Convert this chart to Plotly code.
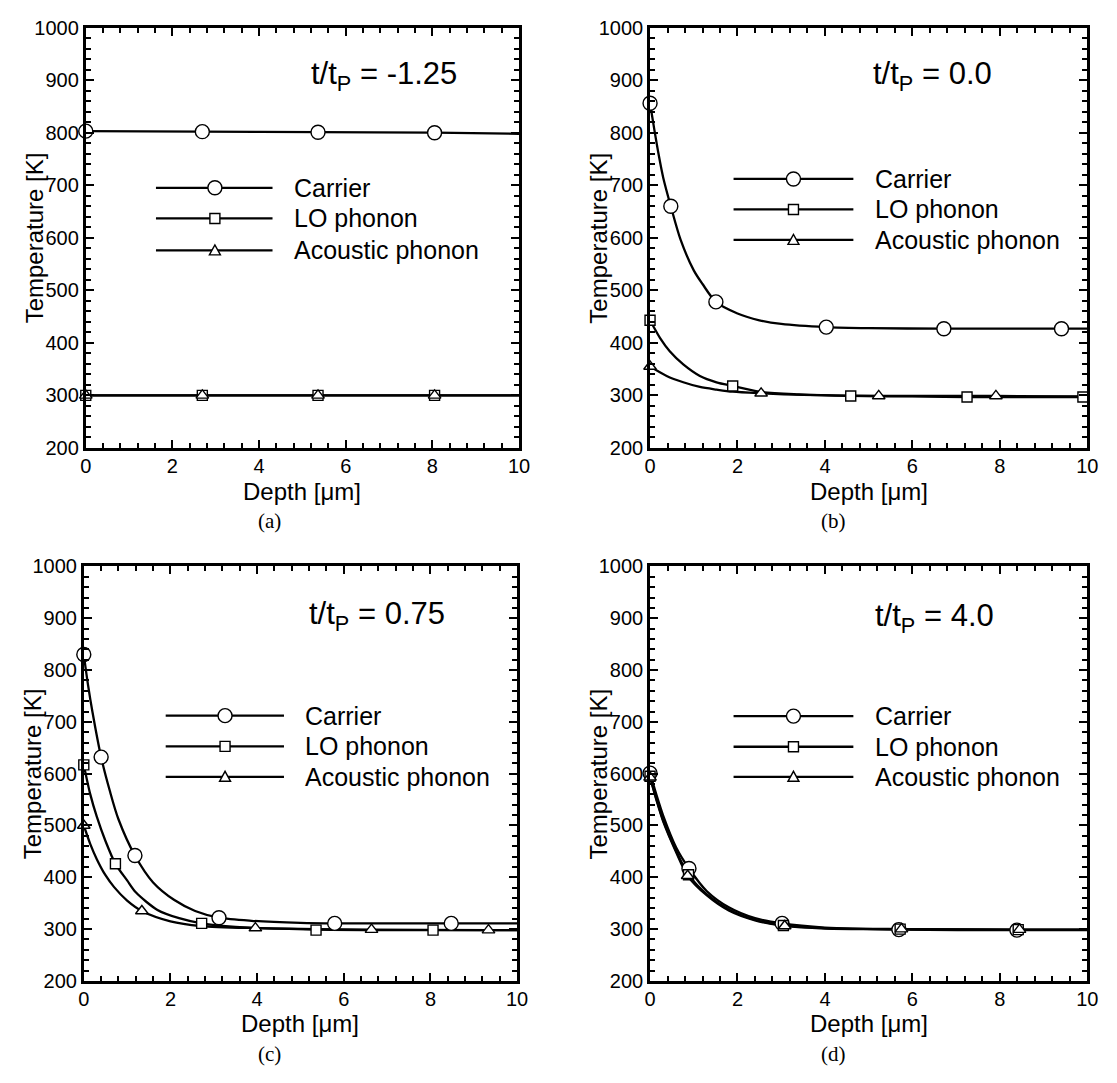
import plotly.graph_objects as go

# ---------------- data: temperature profiles vs depth ----------------
# (a) t/tP = -1.25
a_car_x = [0, 2.69, 5.36, 8.05, 10]
a_car_y = [803, 802, 801, 800, 798]
a_car_mx = [0, 2.69, 5.36, 8.05]
a_car_my = [803, 802, 801, 800]
a_lo_x = [0, 2.69, 5.36, 8.05, 10]
a_lo_y = [300, 300, 300, 300, 300]
a_lo_mx = [0, 2.69, 5.36, 8.05]
a_lo_my = [300, 300, 300, 300]
a_ac_x = [0, 2.69, 5.36, 8.05, 10]
a_ac_y = [300, 300, 300, 300, 300]
a_ac_mx = [0, 2.69, 5.36, 8.05]
a_ac_my = [300, 300, 300, 300]

# (b) t/tP = 0.0
b_car_x = [0, 0.1, 0.2, 0.3, 0.475, 0.7, 1.0, 1.2, 1.506, 2.0, 2.5, 3.0, 4.03, 5.0, 6.72, 8.0, 9.41, 10]
b_car_y = [856, 805, 757, 715, 660, 596, 538, 512, 478, 456, 443, 436, 430, 428, 427, 427, 427, 427]
b_car_mx = [0, 0.475, 1.506, 4.03, 6.72, 9.41]
b_car_my = [856, 660, 478, 430, 427, 427]
b_lo_x = [0, 0.23, 0.45, 0.76, 1.14, 1.52, 1.89, 2.5, 3.4, 4.59, 6.0, 7.25, 9.9, 10]
b_lo_y = [443, 409, 384, 359, 337, 325, 318, 307, 302, 299, 298, 297, 297, 297]
b_lo_mx = [0, 1.89, 4.59, 7.25, 9.9]
b_lo_my = [443, 318, 299, 297, 297]
b_ac_x = [0, 0.38, 0.76, 1.14, 1.52, 1.89, 2.54, 3.5, 5.23, 7.91, 10]
b_ac_y = [355, 337, 325, 316, 311, 307, 304, 301, 299, 299, 298]
b_ac_mx = [0, 2.54, 5.23, 7.91]
b_ac_my = [355, 304, 299, 299]

# (c) t/tP = 0.75
c_car_x = [0, 0.1, 0.2, 0.4, 0.6, 0.8, 1.18, 1.6, 2.09, 2.57, 3.12, 3.87, 5.0, 5.79, 8.48, 10]
c_car_y = [830, 770, 719, 632, 567, 512, 442, 390, 356, 335, 322, 316, 312, 311, 311, 311]
c_car_mx = [0, 0.40, 1.18, 3.12, 5.79, 8.48]
c_car_my = [830, 632, 442, 322, 311, 311]
c_lo_x = [0, 0.15, 0.3, 0.5, 0.73, 1.0, 1.2, 1.7, 2.2, 2.72, 3.5, 5.36, 8.06, 10]
c_lo_y = [617, 560, 517, 470, 426, 394, 371, 337, 321, 311, 304, 299, 298, 298]
c_lo_mx = [0, 0.73, 2.72, 5.36, 8.06]
c_lo_my = [617, 426, 311, 298, 298]
c_ac_x = [0, 0.15, 0.3, 0.5, 0.7, 1.0, 1.34, 2.0, 2.7, 3.96, 6.64, 9.34, 10]
c_ac_y = [500, 464, 435, 404, 381, 355, 335, 315, 306, 302, 299, 298, 298]
c_ac_mx = [0, 1.34, 3.96, 6.64, 9.34]
c_ac_my = [500, 335, 302, 299, 298]

# (d) t/tP = 4.0
d_car_x = [0, 0.15, 0.3, 0.6, 0.89, 1.3, 1.8, 2.4, 3.02, 4.0, 5.69, 8.39, 10]
d_car_y = [601, 558, 519, 457, 417, 373, 342, 321, 311, 303, 299, 298, 298]
d_car_mx = [0, 0.89, 3.02, 5.69, 8.39]
d_car_my = [601, 417, 311, 299, 298]
d_lo_x = [0, 0.15, 0.3, 0.6, 0.88, 1.3, 1.8, 2.4, 3.05, 4.0, 5.72, 8.42, 10]
d_lo_y = [595, 550, 510, 450, 405, 367, 338, 318, 307, 302, 300, 299, 299]
d_lo_mx = [0, 0.88, 3.05, 5.72, 8.42]
d_lo_my = [595, 405, 307, 300, 299]
d_ac_x = [0, 0.15, 0.3, 0.6, 0.86, 1.3, 1.8, 2.4, 3.08, 4.0, 5.75, 8.45, 10]
d_ac_y = [593, 548, 508, 448, 403, 365, 336, 317, 306, 301, 300, 299, 299]
d_ac_mx = [0, 0.86, 3.08, 5.75, 8.45]
d_ac_my = [593, 403, 306, 300, 299]

series_names = ["Carrier", "LO phonon", "Acoustic phonon"]
time_labels = ["t/t<sub>P</sub> = -1.25", "t/t<sub>P</sub> = 0.0",
               "t/t<sub>P</sub> = 0.75", "t/t<sub>P</sub> = 4.0"]
panel_letters = ["(a)", "(b)", "(c)", "(d)"]
x_ticks = [0, 2, 4, 6, 8, 10]
y_ticks = [200, 300, 400, 500, 600, 700, 800, 900, 1000]
x_minor_step = 0.4
y_minor_step = 20

panels_data = [
    [(a_car_x, a_car_y, a_car_mx, a_car_my), (a_lo_x, a_lo_y, a_lo_mx, a_lo_my), (a_ac_x, a_ac_y, a_ac_mx, a_ac_my)],
    [(b_car_x, b_car_y, b_car_mx, b_car_my), (b_lo_x, b_lo_y, b_lo_mx, b_lo_my), (b_ac_x, b_ac_y, b_ac_mx, b_ac_my)],
    [(c_car_x, c_car_y, c_car_mx, c_car_my), (c_lo_x, c_lo_y, c_lo_mx, c_lo_my), (c_ac_x, c_ac_y, c_ac_mx, c_ac_my)],
    [(d_car_x, d_car_y, d_car_mx, d_car_my), (d_lo_x, d_lo_y, d_lo_mx, d_lo_my), (d_ac_x, d_ac_y, d_ac_mx, d_ac_my)],
]

# ---------------- layout geometry ----------------
W, H = 1117, 1083
# plot frames in pixels: left, right, top, bottom
frames = [(81, 521, 17, 446), (654, 1098, 17, 446), (79, 519, 567, 990), (654, 1098, 567, 990)]
# legend placement inside each panel (axis-domain fractions)
legend_pos = [
    dict(l0=0.162, l1=0.431, m=0.298, t=0.476, rows=[0.619, 0.546, 0.470]),
    dict(l0=0.191, l1=0.465, m=0.328, t=0.509, rows=[0.640, 0.5675, 0.495]),
    dict(l0=0.189, l1=0.462, m=0.326, t=0.506, rows=[0.640, 0.566, 0.4925]),
    dict(l0=0.191, l1=0.465, m=0.328, t=0.510, rows=[0.639, 0.565, 0.4925]),
]
title_pos = [(0.516, 0.884), (0.505, 0.884), (0.516, 0.881), (0.510, 0.875)]
letter_x = [268, 840, 268, 840]

FONT = "Liberation Sans"
symbols = ["circle", "square", "triangle-up"]
sizes = [14, 10, 11]

fig = go.Figure()
shapes = []
annotations = []


def px_x(p):
    return p / W


def px_y(p):
    return 1 - p / H


for i in range(4):
    n = "" if i == 0 else str(i + 1)
    xa, ya = "x" + n, "y" + n
    left, right, top, bottom = frames[i]

    for k, (cx, cy, mx, my) in enumerate(panels_data[i]):
        fig.add_trace(go.Scatter(x=cx, y=cy, mode="lines",
                                 line=dict(color="black", width=2.3, shape="spline", smoothing=0.8),
                                 xaxis=xa, yaxis=ya, showlegend=False, hoverinfo="skip"))
    for k, (cx, cy, mx, my) in enumerate(panels_data[i]):
        fig.add_trace(go.Scatter(x=mx, y=my, mode="markers", cliponaxis=False,
                                 marker=dict(symbol=symbols[k], size=sizes[k], color="white",
                                             line=dict(color="black", width=1.4)),
                                 xaxis=xa, yaxis=ya, showlegend=False, name=series_names[k]))

    axis_common = dict(ticks="inside", ticklen=8, tickwidth=1.8, tickcolor="black",
                       showline=True, linewidth=2.8, linecolor="black", mirror="allticks",
                       showgrid=False, zeroline=False,
                       tickfont=dict(family=FONT, size=20, color="black"))
    fig.layout["xaxis" + n] = dict(
        axis_common, domain=[px_x(left), px_x(right)], anchor=ya,
        range=[x_ticks[0], x_ticks[-1]],
        tickmode="linear", tick0=x_ticks[0], dtick=x_ticks[1] - x_ticks[0],
        ticklabelstandoff=-2,
        minor=dict(tickmode="linear", tick0=x_ticks[0], dtick=x_minor_step, ticks="inside",
                   ticklen=5, tickwidth=1.5, tickcolor="black", showgrid=False))
    fig.layout["yaxis" + n] = dict(
        axis_common, domain=[px_y(bottom), px_y(top)], anchor=xa,
        range=[y_ticks[0], y_ticks[-1]],
        tickmode="linear", tick0=y_ticks[0], dtick=y_ticks[1] - y_ticks[0],
        ticklabelstandoff=0,
        minor=dict(tickmode="linear", tick0=y_ticks[0], dtick=y_minor_step, ticks="inside",
                   ticklen=5, tickwidth=1.5, tickcolor="black", showgrid=False))

    xd, yd = xa + " domain", ya + " domain"
    lp = legend_pos[i]
    for k, yy in enumerate(lp["rows"]):
        shapes.append(dict(type="line", xref=xd, yref=yd, x0=lp["l0"], x1=lp["l1"], y0=yy, y1=yy,
                           line=dict(color="black", width=2.3)))
        mk = dict(xref=xd, yref=yd, xsizemode="pixel", ysizemode="pixel",
                  xanchor=lp["m"], yanchor=yy, fillcolor="white", line=dict(color="black", width=1.4))
        if k == 0:
            shapes.append(dict(mk, type="circle", x0=-7, x1=7, y0=-7, y1=7))
        elif k == 1:
            shapes.append(dict(mk, type="rect", x0=-5, x1=5, y0=-5, y1=5))
        else:
            shapes.append(dict(mk, type="path", path="M-5.5,-4.5 L5.5,-4.5 L0,5.5 Z"))
        annotations.append(dict(text=series_names[k], xref=xd, yref=yd, x=lp["t"], y=yy,
                                xanchor="left", yanchor="middle", showarrow=False,
                                font=dict(family=FONT, size=25, color="black")))

    tx, ty = title_pos[i]
    annotations.append(dict(text=time_labels[i], xref=xd, yref=yd, x=tx, y=ty,
                            xanchor="left", yanchor="middle", showarrow=False,
                            font=dict(family=FONT, size=31, color="black")))
    # axis titles
    annotations.append(dict(text="Depth [μm]", xref="paper", yref="paper",
                            x=px_x((left + right) / 2), y=px_y(bottom + 44),
                            xanchor="center", yanchor="middle", showarrow=False,
                            font=dict(family=FONT, size=24, color="black")))
    annotations.append(dict(text="Temperature [K]", xref="paper", yref="paper",
                            x=px_x(left - 52), y=px_y((top + bottom) / 2), textangle=-90,
                            xanchor="center", yanchor="middle", showarrow=False,
                            font=dict(family=FONT, size=24, color="black")))
    annotations.append(dict(text=panel_letters[i], xref="paper", yref="paper",
                            x=px_x(letter_x[i]), y=px_y(bottom + 75),
                            xanchor="center", yanchor="middle", showarrow=False,
                            font=dict(family="Liberation Serif", size=21, color="black")))

fig.update_layout(width=W, height=H, margin=dict(l=0, r=0, t=0, b=0),
                  paper_bgcolor="white", plot_bgcolor="white",
                  shapes=shapes, annotations=annotations, showlegend=False)

fig.write_html("out.html")
